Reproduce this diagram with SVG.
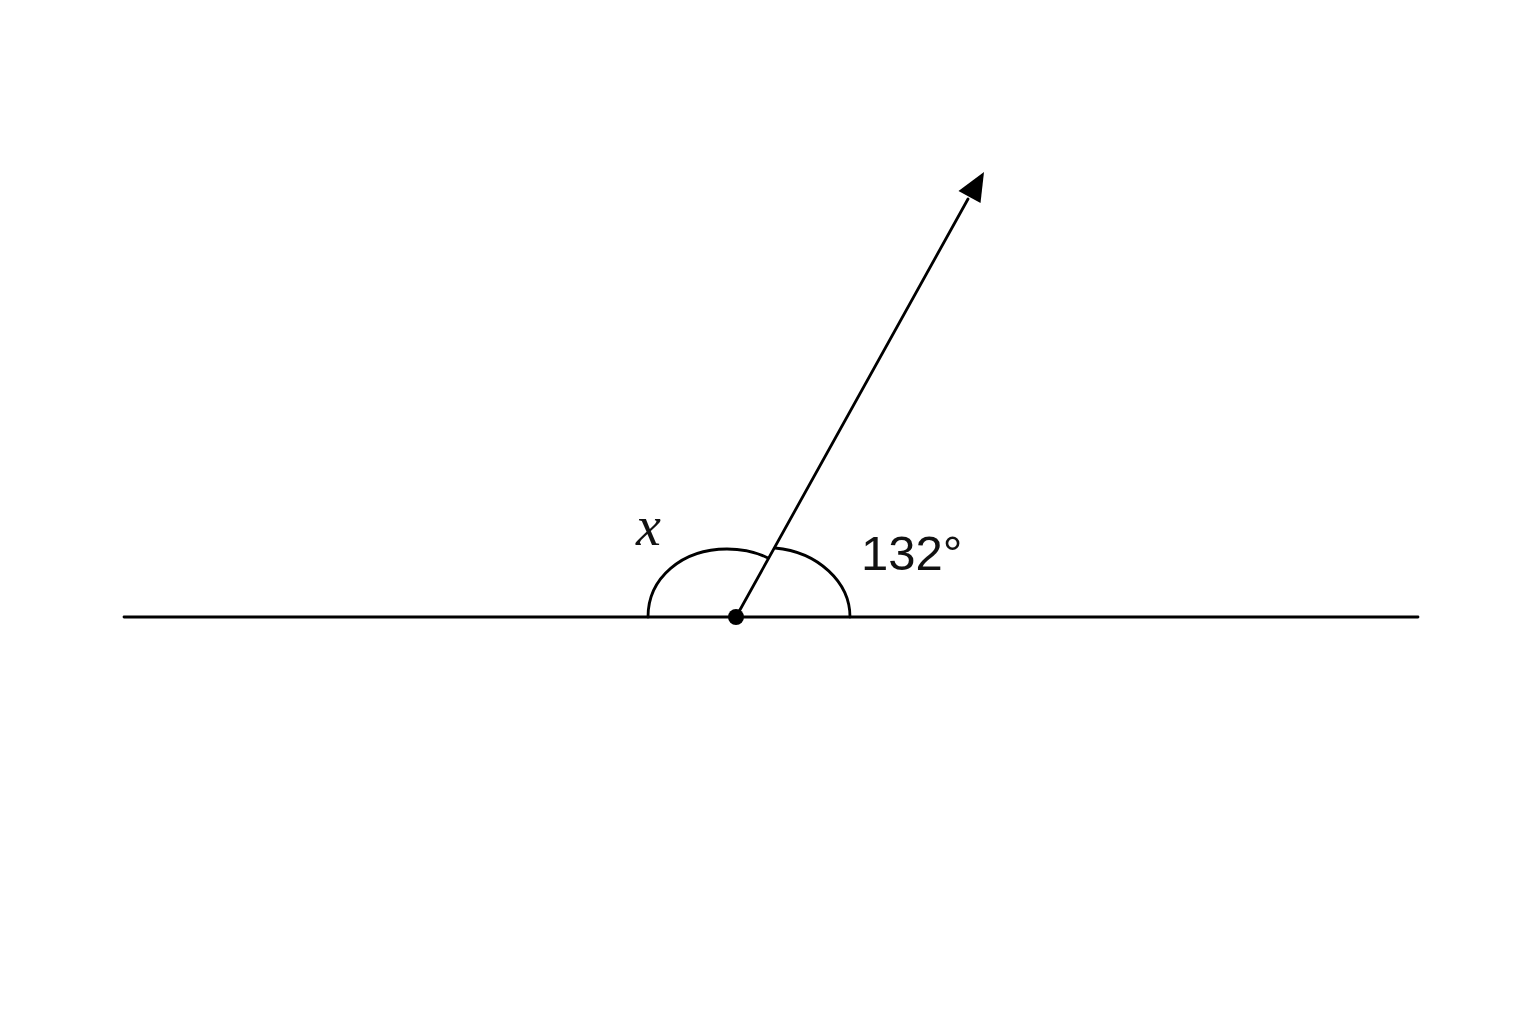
<svg xmlns="http://www.w3.org/2000/svg" width="1536" height="1024" viewBox="0 0 1536 1024">
<style>
.ln{stroke:#000;stroke-width:2.8;fill:none;stroke-linecap:round}
.lbl{font-family:"Liberation Sans",Arial,sans-serif;fill:#111}
.var{font-family:"Liberation Serif","Times New Roman",serif;font-style:italic;fill:#111}
</style>
<rect width="1536" height="1024" fill="#fff"/>
<g id="connectors">
<line class="ln" x1="124" y1="617" x2="1418" y2="617"/>
<line class="ln" x1="736" y1="617" x2="968" y2="199"/>
<polygon points="984,172 980.5,203 958.5,191" fill="#000"/>
</g>
<g id="arcs">
<path class="ln" d="M648,617 C648,578 682,549 727,549 C744,549 758,553 768,558"/>
<path class="ln" d="M775,548 C818,552 850,582 850,617"/>
</g>
<g id="vertex"><circle cx="736" cy="617" r="8" fill="#000"/></g>
<g id="labels">
<text class="var" x="636" y="545" font-size="56">x</text>
<text class="lbl" x="861" y="570" font-size="49">132°</text>
</g>
</svg>
